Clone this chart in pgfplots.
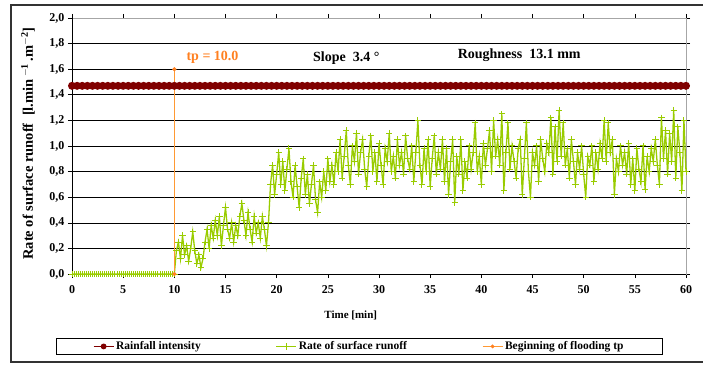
\documentclass[border=0pt]{standalone}
\usepackage{pgfplots}
\pgfplotsset{compat=1.18}
\usepackage{fontspec}
\setmainfont{Liberation Serif}
\definecolor{rainred}{RGB}{128,0,0}
\definecolor{rungreen}{RGB}{153,204,0}
\definecolor{tporange}{RGB}{255,153,51}
\definecolor{tptext}{RGB}{255,128,32}
\begin{document}
\begin{tikzpicture}[x=1pt,y=1pt]
\path[use as bounding box] (0,0) rectangle (703,367);
\draw[line width=1.1pt, black!80] (703,362) -- (11,362) -- (11,5) -- (703,5);
\begin{axis}[
  at={(72pt,93pt)}, anchor=south west,
  scale only axis, width=614pt, height=256pt,
  xmin=0, xmax=60, ymin=0, ymax=2,
  xtick={0,5,...,60}, ytick={0,0.2,...,2.01},
  tick align=outside, major tick length=4pt,
  tick style={black, line width=0.6pt},
  axis line style={draw=gray!70, line width=0.8pt},
  ymajorgrids, major grid style={black, line width=0.6pt},
  /pgf/number format/assume math mode=true,
  ticklabel style={font=\fontsize{12}{14}\selectfont\bfseries},
  yticklabel style={/pgf/number format/.cd, fixed, fixed zerofill, precision=1, use comma},
  xticklabel style={/pgf/number format/.cd, fixed, precision=0, /tikz/.cd, yshift=-4pt},
  xlabel={Time [min]},
  xlabel style={font=\fontsize{11}{13}\selectfont\bfseries, at={(axis description cs:0.454,-0.16)}, anchor=center},
  ylabel={Rate of surface runoff \ [l.min\,$^{\mathbf{-1}}$\,.m$^{\mathbf{-2}}$]},
  ylabel style={font=\fontsize{14.5}{16}\selectfont\bfseries, at={(axis description cs:-0.0717,0.51)}, anchor=center, rotate=0},
  clip=false,
  legend columns=3,
  legend style={at={(0.468,-0.283)}, anchor=center, draw=black, line width=0.6pt,
    font=\fontsize{11.5}{13}\selectfont\bfseries, inner xsep=37pt, inner ysep=1.5pt,
    /tikz/every even column/.append style={column sep=73pt}},
  legend image code/.code={\draw[mark repeat=2, mark phase=2] plot coordinates {(0pt,0pt) (10pt,0pt) (20pt,0pt)};},
  legend image post style={line width=1pt},
]
\addplot[rainred, line width=3pt, mark=*, mark size=2.4pt, mark options={solid, fill=rainred}] table {
x y
0 1.47
0.5 1.47
1 1.47
1.5 1.47
2 1.47
2.5 1.47
3 1.47
3.5 1.47
4 1.47
4.5 1.47
5 1.47
5.5 1.47
6 1.47
6.5 1.47
7 1.47
7.5 1.47
8 1.47
8.5 1.47
9 1.47
9.5 1.47
10 1.47
10.5 1.47
11 1.47
11.5 1.47
12 1.47
12.5 1.47
13 1.47
13.5 1.47
14 1.47
14.5 1.47
15 1.47
15.5 1.47
16 1.47
16.5 1.47
17 1.47
17.5 1.47
18 1.47
18.5 1.47
19 1.47
19.5 1.47
20 1.47
20.5 1.47
21 1.47
21.5 1.47
22 1.47
22.5 1.47
23 1.47
23.5 1.47
24 1.47
24.5 1.47
25 1.47
25.5 1.47
26 1.47
26.5 1.47
27 1.47
27.5 1.47
28 1.47
28.5 1.47
29 1.47
29.5 1.47
30 1.47
30.5 1.47
31 1.47
31.5 1.47
32 1.47
32.5 1.47
33 1.47
33.5 1.47
34 1.47
34.5 1.47
35 1.47
35.5 1.47
36 1.47
36.5 1.47
37 1.47
37.5 1.47
38 1.47
38.5 1.47
39 1.47
39.5 1.47
40 1.47
40.5 1.47
41 1.47
41.5 1.47
42 1.47
42.5 1.47
43 1.47
43.5 1.47
44 1.47
44.5 1.47
45 1.47
45.5 1.47
46 1.47
46.5 1.47
47 1.47
47.5 1.47
48 1.47
48.5 1.47
49 1.47
49.5 1.47
50 1.47
50.5 1.47
51 1.47
51.5 1.47
52 1.47
52.5 1.47
53 1.47
53.5 1.47
54 1.47
54.5 1.47
55 1.47
55.5 1.47
56 1.47
56.5 1.47
57 1.47
57.5 1.47
58 1.47
58.5 1.47
59 1.47
59.5 1.47
60 1.47
};
\addlegendentry{Rainfall intensity}
\addplot[rungreen, line width=1.3pt, mark=+, mark size=3.2pt, mark options={line width=1pt}] table {
x y
0 0
0.2 0
0.4 0
0.6 0
0.8 0
1.0 0
1.2 0
1.4 0
1.6 0
1.8 0
2.0 0
2.2 0
2.4 0
2.6 0
2.8 0
3.0 0
3.2 0
3.4 0
3.6 0
3.8 0
4.0 0
4.2 0
4.4 0
4.6 0
4.8 0
5.0 0
5.2 0
5.4 0
5.6 0
5.8 0
6.0 0
6.2 0
6.4 0
6.6 0
6.8 0
7.0 0
7.2 0
7.4 0
7.6 0
7.8 0
8.0 0
8.2 0
8.4 0
8.6 0
8.8 0
9.0 0
9.2 0
9.4 0
9.6 0
9.8 0
10.0 0
10.2 0.18
10.4 0.25
10.6 0.12
10.8 0.30
11.0 0.15
11.2 0.22
11.4 0.10
11.6 0.20
11.8 0.33
12.0 0.18
12.2 0.08
12.4 0.15
12.6 0.05
12.8 0.12
13.0 0.25
13.2 0.35
13.4 0.20
13.6 0.38
13.8 0.28
14.0 0.42
14.2 0.30
14.4 0.45
14.6 0.22
14.8 0.38
15.0 0.52
15.2 0.35
15.4 0.28
15.6 0.40
15.8 0.25
16.0 0.38
16.2 0.30
16.4 0.45
16.6 0.55
16.8 0.42
17.0 0.30
17.2 0.48
17.4 0.35
17.6 0.25
17.8 0.45
18.0 0.32
18.2 0.40
18.4 0.28
18.6 0.45
18.8 0.35
19.0 0.22
19.2 0.40
19.4 0.70
19.6 0.85
19.8 0.62
20.0 0.78
20.2 0.95
20.4 0.70
20.6 0.88
20.8 0.65
21.0 0.82
21.2 0.98
21.4 0.72
21.6 0.60
21.8 0.85
22.0 0.68
22.2 0.52
22.4 0.75
22.6 0.90
22.8 0.62
23.0 0.78
23.2 0.55
23.4 0.70
23.6 0.85
23.8 0.58
24.0 0.48
24.2 0.72
24.4 0.60
24.6 0.80
24.8 0.65
25.0 0.90
25.2 0.72
25.4 0.85
25.6 0.70
25.8 0.95
26.0 0.80
26.2 1.05
26.4 0.75
26.6 0.92
26.8 1.12
27.0 0.85
27.2 0.70
27.4 1.00
27.6 0.88
27.8 1.10
28.0 0.78
28.2 0.95
28.4 1.05
28.6 0.82
28.8 0.68
29.0 0.92
29.2 1.08
29.4 0.80
29.6 0.95
29.8 0.72
30.0 1.02
30.2 0.85
30.4 0.70
30.6 0.98
30.8 0.88
31.0 1.10
31.2 0.80
31.4 0.92
31.6 0.75
31.8 1.05
32.0 0.85
32.2 0.95
32.4 0.78
32.6 1.08
32.8 0.90
33.0 0.82
33.2 1.00
33.4 0.72
33.6 0.95
33.8 1.20
34.0 0.85
34.2 0.70
34.4 0.98
34.6 0.80
34.8 1.05
35.0 0.68
35.2 0.90
35.4 1.08
35.6 0.78
35.8 0.95
36.0 0.82
36.2 1.05
36.4 0.72
36.6 0.98
36.8 0.62
37.0 0.88
37.2 1.05
37.4 0.56
37.6 0.92
37.8 0.78
38.0 1.05
38.2 0.65
38.4 0.88
38.6 0.75
38.8 1.00
39.0 0.82
39.2 0.95
39.4 1.18
39.6 0.80
39.8 0.92
40.0 0.70
40.2 1.02
40.4 0.85
40.6 0.98
40.8 1.12
41.0 0.80
41.2 1.20
41.4 0.92
41.6 1.05
41.8 0.85
42.0 1.25
42.2 0.65
42.4 0.95
42.6 1.18
42.8 0.82
43.0 1.00
43.2 0.88
43.4 0.75
43.6 0.98
43.8 1.05
44.0 0.62
44.2 0.90
44.4 1.18
44.6 0.80
44.8 0.60
45.0 0.95
45.2 0.85
45.4 1.00
45.6 0.72
45.8 1.05
46.0 0.90
46.2 0.80
46.4 1.02
46.6 0.95
46.8 1.22
47.0 0.78
47.2 1.15
47.4 0.88
47.6 1.28
47.8 0.92
48.0 1.18
48.2 0.85
48.4 0.98
48.6 0.75
48.8 1.05
49.0 0.88
49.2 0.70
49.4 0.95
49.6 0.82
49.8 1.00
50.0 0.78
50.2 0.60
50.4 0.92
50.6 0.85
50.8 1.00
51.0 0.72
51.2 0.95
51.4 0.82
51.6 1.02
51.8 0.90
52.0 1.20
52.2 0.88
52.4 1.18
52.6 0.95
52.8 1.05
53.0 0.62
53.2 0.90
53.4 0.80
53.6 1.00
53.8 0.85
54.0 0.95
54.2 0.78
54.4 1.02
54.6 0.70
54.8 0.90
55.0 0.65
55.2 0.98
55.4 0.82
55.6 0.72
55.8 1.00
56.0 0.66
56.2 0.92
56.4 0.80
56.6 0.98
56.8 0.88
57.0 1.05
57.2 0.85
57.4 0.70
57.6 1.22
57.8 0.90
58.0 1.12
58.2 0.78
58.4 1.10
58.6 0.88
58.8 1.28
59.0 0.75
59.2 1.15
59.4 0.95
59.6 0.65
59.8 1.20
60.0 0.80
};
\addlegendentry{Rate of surface runoff}
\addplot[tporange, line width=1.3pt, mark=*, mark size=1.3pt, mark options={fill=tptext, draw=tptext}] coordinates {(10,0) (10,1.6)};
\addlegendentry{Beginning of flooding tp}
\draw[black, line width=0.8pt] (rel axis cs:0,1) -- (rel axis cs:0,0) -- (rel axis cs:1,0);
\node[anchor=west, text=tptext, font=\fontsize{14}{16}\selectfont\bfseries] at (axis cs:10.85,1.69) {tp = 10.0};
\node[anchor=center, font=\fontsize{14}{16}\selectfont\bfseries] at (axis cs:26.8,1.69) {Slope \ 3.4 °};
\node[anchor=center, font=\fontsize{14}{16}\selectfont\bfseries] at (axis cs:43.7,1.71) {Roughness \ 13.1 mm};
\end{axis}
\end{tikzpicture}
\end{document}
